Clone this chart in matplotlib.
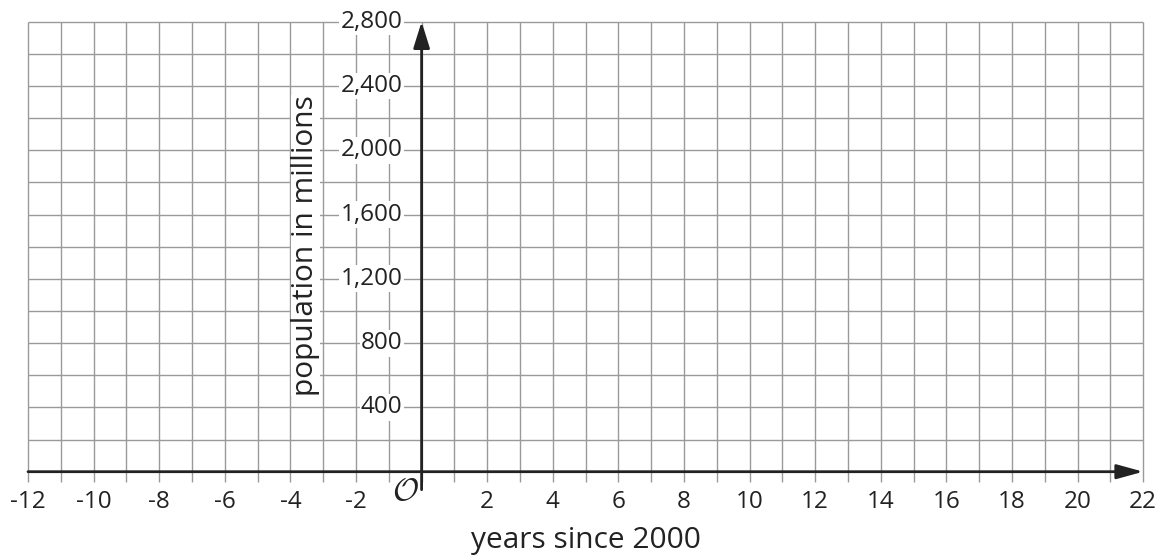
import numpy as np
import matplotlib
matplotlib.use('Agg')
import matplotlib.pyplot as plt

plt.rcParams['font.family'] = ['Open Sans', 'DejaVu Sans']
plt.rcParams['mathtext.fontset'] = 'cm'

# grid / axis data
x_min, x_max = -12, 22
y_min, y_max = 0, 2800
y_step = 200
x_ticks = [-12, -10, -8, -6, -4, -2, 2, 4, 6, 8, 10, 12, 14, 16, 18, 20, 22]
y_ticks = [400, 800, 1200, 1600, 2000, 2400, 2800]
y_tick_labels = ['400', '800', '1,200', '1,600', '2,000', '2,400', '2,800']
x_label = 'years since 2000'
y_label = 'population in millions'

grid_col = '#9a9a9a'
axis_col = '#222222'
text_col = '#222222'

fig = plt.figure(figsize=(11.6, 5.55), dpi=100)
ax = fig.add_axes([0, 0, 1, 1])
ax.set_axis_off()

# pixel mapping: x=-12 at 28px, 32.8 px/unit; y=0 at 83.3px from bottom, 0.1607 px/unit
ax.set_xlim(-12 - 28 / 32.8, -12 + (1160 - 28) / 32.8)
ax.set_ylim(-83.3 / 0.1607, (555 - 83.3) / 0.1607)

ypx = 1 / 0.1607  # data units per pixel in y
xpx = 1 / 32.8

xs = np.arange(x_min, x_max + 1)
ys = np.arange(y_min, y_max + 1, y_step)
ax.vlines(xs, -10 * ypx, y_max, color=grid_col, lw=1.0, zorder=1)
ax.hlines(ys[1:], x_min, x_max, color=grid_col, lw=1.0, zorder=1)

# axes with arrows
ax.annotate('', xy=(x_max, 0), xytext=(x_min, 0),
            arrowprops=dict(arrowstyle='-|>,head_length=0.8,head_width=0.22',
                            lw=2, color=axis_col, mutation_scale=20,
                            shrinkA=0, shrinkB=0), zorder=4)
ax.annotate('', xy=(0, y_max), xytext=(0, -18 * ypx),
            arrowprops=dict(arrowstyle='-|>,head_length=0.8,head_width=0.25',
                            lw=2, color=axis_col, mutation_scale=20,
                            shrinkA=0, shrinkB=0), zorder=4)

box = dict(facecolor='white', edgecolor='none', pad=1)
for x in x_ticks:
    ax.text(x, -30 * ypx, str(x), ha='center', va='center', fontsize=17.5,
            color=text_col, zorder=3)
for y, lab in zip(y_ticks, y_tick_labels):
    ax.text(-19 * xpx, y, lab, ha='right', va='center', fontsize=17.5,
            color=text_col, bbox=box, zorder=3)

ax.text(-0.48, -20 * ypx, r'$\mathcal{O}$', ha='center', va='center',
        fontsize=23, color=text_col, zorder=3)

ax.text(5.0, -69 * ypx, x_label, ha='center', va='center', fontsize=21.5,
        color=text_col)
ax.text(-3.55, 1410, y_label, ha='center', va='center', rotation=90,
        fontsize=21.5, color=text_col,
        bbox=dict(facecolor='white', edgecolor='none', pad=0), zorder=3)

fig.savefig('out.png', dpi=100)
